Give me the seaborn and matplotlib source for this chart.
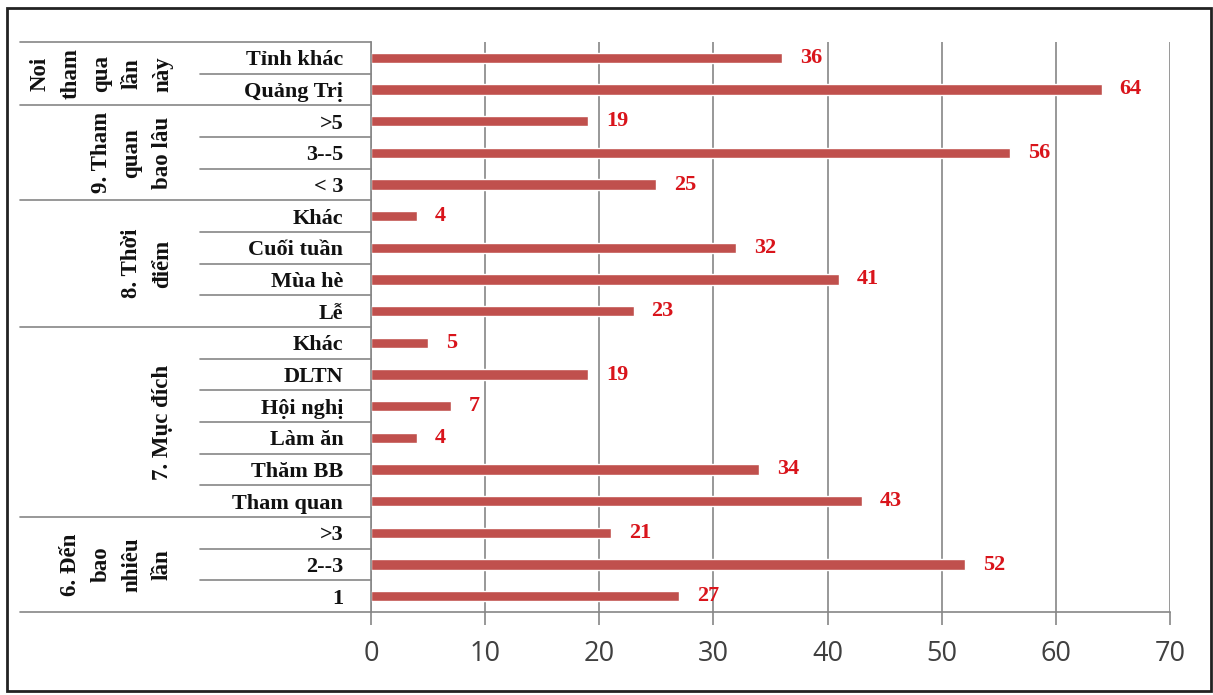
import pandas as pd
import matplotlib.pyplot as plt
import seaborn as sns
from matplotlib.patches import Rectangle

# Dữ liệu (từ trên xuống dưới)
items = ["Tỉnh khác", "Quảng Trị", ">5", "3--5", "< 3", "Khác", "Cuối tuần",
         "Mùa hè", "Lễ", "Khác", "DLTN", "Hội nghị", "Làm ăn", "Thăm BB",
         "Tham quan", ">3", "2--3", "1"]
values = [36, 64, 19, 56, 25, 4, 32, 41, 23, 5, 19, 7, 4, 34, 43, 21, 52, 27]
group_names = ["Noi\ntham\nqua\nlần\nnày", "9. Tham\nquan\nbao lâu",
               "8. Thời\nđiểm", "7. Mục đích", "6. Đến\nbao\nnhiêu\nlần"]
group_sizes = [2, 3, 4, 6, 3]
x_ticks = [0, 10, 20, 30, 40, 50, 60, 70]

sns.set_style("white")
plt.rcParams['font.family'] = ['Liberation Serif', 'DejaVu Serif']

W, H = 1213, 695
fig = plt.figure(figsize=(W / 100, H / 100), dpi=100)
x0, x1, y0, y1 = 371, 1170, 42, 612
ax = fig.add_axes([x0 / W, 1 - y1 / H, (x1 - x0) / W, (y1 - y0) / H])

df = pd.DataFrame({"key": [f"r{i}" for i in range(len(items))], "value": values})
sns.barplot(data=df, x="value", y="key", color="#C0504D", saturation=1,
            width=0.32, orient="h", ax=ax)

ax.set_xlim(0, 70)
ax.set_ylim(len(items) - 0.5, -0.5)
ax.set_xticks(x_ticks)
ax.set_xticklabels([str(t) for t in x_ticks], family=['Open Sans', 'DejaVu Sans'],
                   fontsize=19.5, color="#404040")
ax.tick_params(axis="x", direction="out", length=9, width=1.2, color="#868686", pad=11,
               bottom=True)
ax.set_yticks(range(len(items)))
ax.set_yticklabels(items, fontsize=16, fontweight="bold", color="#111111")
ax.tick_params(axis="y", length=0, pad=20)
ax.set_xlabel("")
ax.set_ylabel("")

ax.grid(axis="x", color="#868686", linewidth=1.2)
ax.set_axisbelow(True)
for side in ["top", "right"]:
    ax.spines[side].set_visible(False)
for side in ["left", "bottom"]:
    ax.spines[side].set_color("#868686")
    ax.spines[side].set_linewidth(1.2)

# Nhãn giá trị màu đỏ
for i, v in enumerate(values):
    ax.annotate(str(v), (v, i), xytext=(13, 0), textcoords="offset points",
                ha="left", va="center", color="#D9141B", fontsize=16, fontweight="bold")

# Đường phân cách nhóm và mục trên trục danh mục
tr = ax.get_yaxis_transform()
long_x = (20 - x0) / (x1 - x0)
short_x = (200 - x0) / (x1 - x0)
start = 0
bounds = [-0.5]
for name, n in zip(group_names, group_sizes):
    for k in range(start + 1, start + n):
        ax.plot([short_x, 0], [k - 0.5, k - 0.5], transform=tr, clip_on=False,
                color="#868686", lw=1.2)
    center = start + (n - 1) / 2
    ax.text((173 - x0) / (x1 - x0), center, name, transform=tr, rotation=90,
            ha="right", va="center", multialignment="center", linespacing=1.6,
            fontsize=16.5, fontweight="bold", color="#111111")
    start += n
    bounds.append(start - 0.5)
for b in bounds:
    ax.plot([long_x, 0], [b, b], transform=tr, clip_on=False, color="#868686", lw=1.2)

# Khung viền ngoài
fig.patches.append(Rectangle((7 / W, 1 - 691 / H), (1211 - 7) / W, (691 - 8) / H,
                             transform=fig.transFigure, fill=False,
                             edgecolor="#222222", linewidth=2))

fig.savefig("out.png", dpi=100)
